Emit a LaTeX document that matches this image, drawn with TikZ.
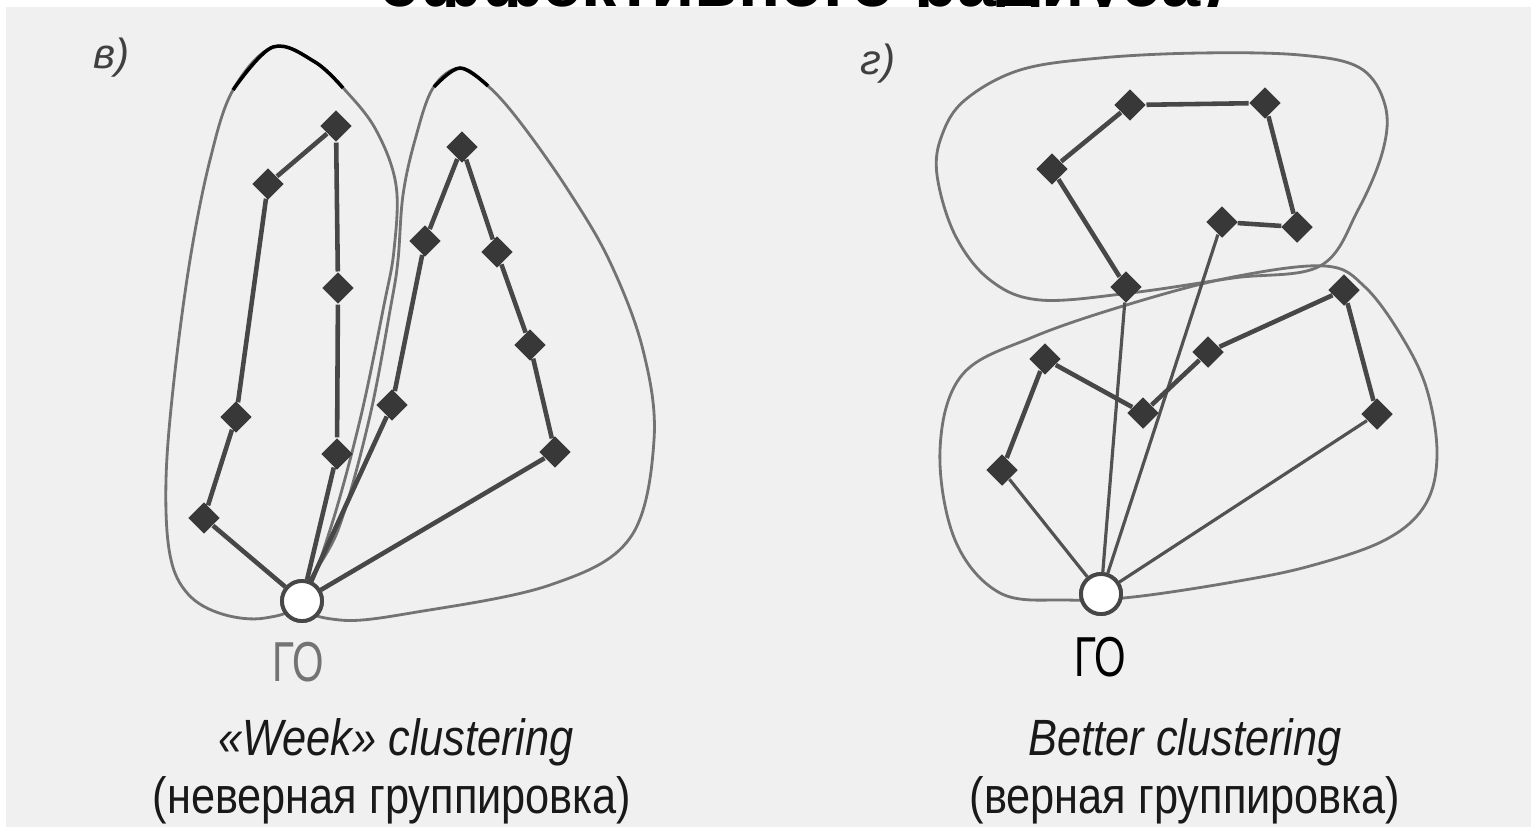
\documentclass[tikz,border=0pt]{standalone}
\usepackage{fontspec}
\setmainfont{Liberation Sans}
\newfontfamily\capfont[FakeStretch=0.85]{Liberation Sans}
\newfontfamily\gofont[FakeStretch=0.72]{Liberation Sans}
\usetikzlibrary{shapes.geometric}

\begin{document}
\begin{tikzpicture}[
  x=0.01cm, y=-0.01cm,
  stop/.style={diamond, fill=black!78, inner sep=0pt,
               minimum width=0.32cm, minimum height=0.32cm},
  depot/.style={circle, draw=black!72, line width=1.1pt, fill=white,
                inner sep=0pt, minimum size=0.4cm},
  route/.style={draw=black!72, line width=1.3pt, line join=round},
  spoke/.style={draw=black!68, line width=0.9pt},
  zone/.style={draw=black!55, line width=0.8pt},
  zonetop/.style={draw=black, line width=1pt},
  captext/.style={font=\capfont\fontsize{14.5}{17}\selectfont, text=black!90},
  golabel/.style={font=\gofont\fontsize{16}{18}\selectfont},
  panel/.style={font=\itshape\fontsize{12}{14}\selectfont, text=black!75}
]
\clip (0,0) rectangle (1531,827);
% cut-off heading of the page
\node[anchor=base, font=\bfseries\fontsize{20}{24}\selectfont] (title) at (803,6)
  {эффективного радиуса)};
\fill[black!6] (6,7) rectangle (1531,827);

% ---- left panel: weak clustering
\draw[zone] plot[smooth cycle, tension=0.6] coordinates {(302,600) (265,618)
  (222,614) (188,594) (170,555) (166,480) (174,380) (190,260) (210,160)
  (233,90) (273,47) (315,62) (345,90) (376,130) (396,185) (394,250)
  (384,305) (360,420) (330,530)};
\draw[zone] plot[smooth cycle, tension=0.6] coordinates {(302,600) (340,620)
  (417,612) (550,585) (630,538) (654,440) (643,350) (610,262) (568,190)
  (520,122) (488,86) (460,68) (433,88) (415,140) (403,195) (398,260)
  (391,305) (369,420) (338,530)};
\draw[zonetop] plot[smooth, tension=0.6] coordinates {(233,90) (273,47) (315,62) (343,88)};
\draw[zonetop] plot[smooth, tension=0.6] coordinates {(434,87) (460,68) (488,86)};

\node[depot] (goL) at (302,601) {};
\node[stop] (a1) at (268,184) {};
\node[stop] (a2) at (336,126) {};
\node[stop] (a3) at (338,288) {};
\node[stop] (a4) at (236,417) {};
\node[stop] (a5) at (204,518) {};
\node[stop] (a6) at (337,454) {};
\node[stop] (b1) at (462,147) {};
\node[stop] (b2) at (425,241) {};
\node[stop] (b3) at (497,252) {};
\node[stop] (b4) at (392,405) {};
\node[stop] (b5) at (530,345) {};
\node[stop] (b6) at (555,452) {};

\draw[route] (goL) -- (a5) -- (a4) -- (a1) -- (a2) -- (a3) -- (a6) -- (goL);
\draw[route] (goL) -- (b4) -- (b2) -- (b1) -- (b3) -- (b5) -- (b6) -- (goL);
\node[depot] at (goL) {};

% ---- right panel: better clustering
\draw[zone] plot[smooth cycle, tension=0.6] coordinates {(937,175) (955,235)
  (990,280) (1040,300) (1130,293) (1233,278) (1320,266) (1358,210)
  (1383,150) (1385,105) (1360,68) (1300,55) (1200,53) (1100,58) (1020,70)
  (965,100) (942,135)};
\draw[zone] plot[smooth cycle, tension=0.6] coordinates {(1033,337) (1133,303)
  (1233,277) (1325,266) (1365,287) (1402,337) (1427,390) (1437,455)
  (1425,505) (1385,540) (1310,566) (1233,582) (1133,597) (1067,600)
  (1000,593) (955,540) (940,450) (962,375)};

\node[depot] (goR) at (1101,594) {};
\node[stop] (c1) at (1130,105) {};
\node[stop] (c2) at (1265,103) {};
\node[stop] (c3) at (1052,169) {};
\node[stop] (c4) at (1222,222) {};
\node[stop] (c5) at (1297,227) {};
\node[stop] (c6) at (1126,287) {};
\node[stop] (d1) at (1045,359) {};
\node[stop] (d2) at (1002,470) {};
\node[stop] (d3) at (1143,413) {};
\node[stop] (d4) at (1208,352) {};
\node[stop] (d5) at (1344,290) {};
\node[stop] (d6) at (1377,414) {};

\draw[spoke] (goR) -- (c6);
\draw[route] (c6) -- (c3) -- (c1) -- (c2) -- (c5) -- (c4);
\draw[spoke] (c4) -- (goR);
\draw[spoke] (goR) -- (d2);
\draw[route] (d2) -- (d1) -- (d3) -- (d4) -- (d5) -- (d6);
\draw[spoke] (d6) -- (goR);
\node[depot] at (goR) {};

% ---- labels
\node[panel] (pv) at (112,58) {в)};
\node[panel] (pg) at (878,64) {г)};
\node[golabel, text=black!55] (goLlab) at (298,662) {ГО};
\node[golabel] (goRlab) at (1100,657) {ГО};
\node[captext] (capL1) at (396,742) {\itshape «Week» clustering};
\node[captext] (capL2) at (392,800) {(неверная группировка)};
\node[captext] (capR1) at (1185,742) {\itshape Better clustering};
\node[captext] (capR2) at (1185,800) {(верная группировка)};
\end{tikzpicture}
\end{document}
